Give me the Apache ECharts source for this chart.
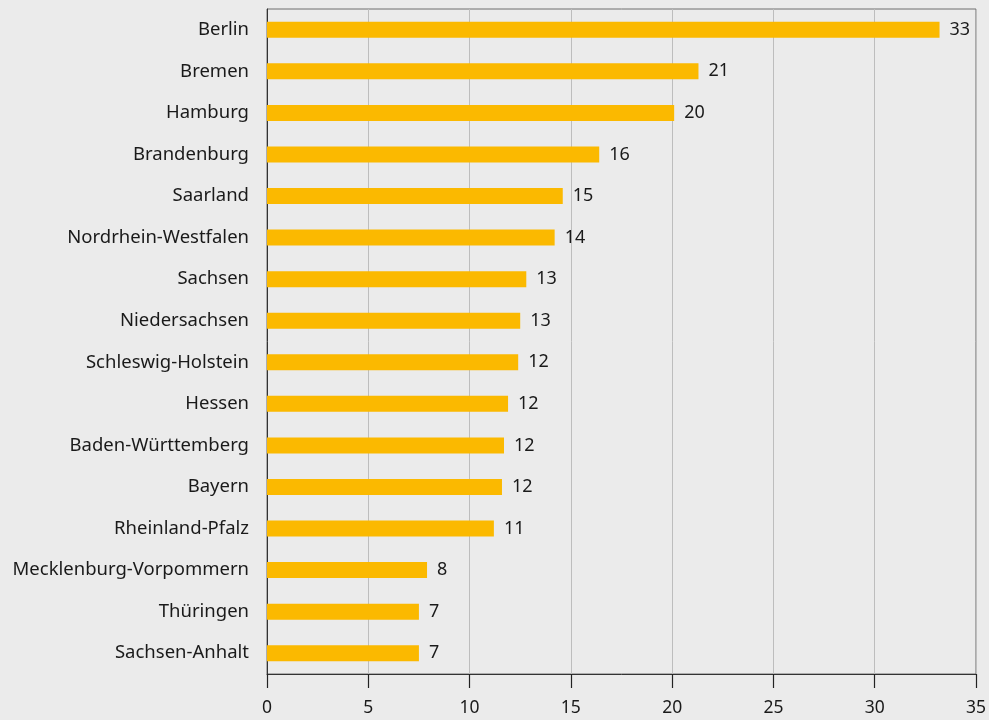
<!DOCTYPE html>
<html>
<head>
<meta charset="utf-8">
<script src="https://cdn.jsdelivr.net/npm/echarts@6/dist/echarts.min.js"></script>
<style>
  html, body { margin: 0; padding: 0; background: #ebebeb; }
  #chart { width: 989px; height: 720px; }
</style>
</head>
<body>
<div id="chart"></div>
<script>
// Bundesländer, top to bottom
var states = ['Berlin', 'Bremen', 'Hamburg', 'Brandenburg', 'Saarland', 'Nordrhein-Westfalen',
  'Sachsen', 'Niedersachsen', 'Schleswig-Holstein', 'Hessen', 'Baden-Württemberg', 'Bayern',
  'Rheinland-Pfalz', 'Mecklenburg-Vorpommern', 'Thüringen', 'Sachsen-Anhalt'];
// bar lengths
var values = [33.2, 21.3, 20.1, 16.4, 14.6, 14.2, 12.8, 12.5, 12.4, 11.9, 11.7, 11.6, 11.2, 7.9, 7.5, 7.5];
// printed labels
var valueLabels = ['33', '21', '20', '16', '15', '14', '13', '13', '12', '12', '12', '12', '11', '8', '7', '7'];

var font = 'Noto Sans';
var myChart = echarts.init(document.getElementById('chart'));

var option = {
  backgroundColor: '#ebebeb',
  animation: false,
  grid: {
    left: 267, right: 11, top: 9, bottom: 46,
    show: true, borderColor: '#6e6e6e', borderWidth: 1, backgroundColor: 'transparent'
  },
  xAxis: {
    type: 'value',
    min: 0, max: 35, interval: 5,
    axisLine: { show: true, lineStyle: { color: '#333', width: 1 } },
    axisTick: { show: true, inside: false, length: 14, lineStyle: { color: '#222', width: 1.2 } },
    axisLabel: { color: '#1a1a1a', fontFamily: font, fontSize: 17.5, margin: 25 },
    splitLine: { show: true, lineStyle: { color: '#bdbdbd', width: 1 } }
  },
  yAxis: {
    type: 'category',
    inverse: true,
    data: states,
    axisLine: { show: true, lineStyle: { color: '#333', width: 1 } },
    axisTick: { show: false },
    axisLabel: { color: '#1a1a1a', fontFamily: font, fontSize: 18.5, margin: 18 }
  },
  series: [{
    type: 'bar',
    data: values,
    barWidth: 16,
    itemStyle: { color: '#fbb900' },
    label: {
      show: true,
      position: 'right',
      distance: 10,
      color: '#1a1a1a',
      fontFamily: font,
      fontSize: 18,
      formatter: function (p) { return valueLabels[p.dataIndex]; }
    }
  }]
};
myChart.setOption(option);
</script>
</body>
</html>
